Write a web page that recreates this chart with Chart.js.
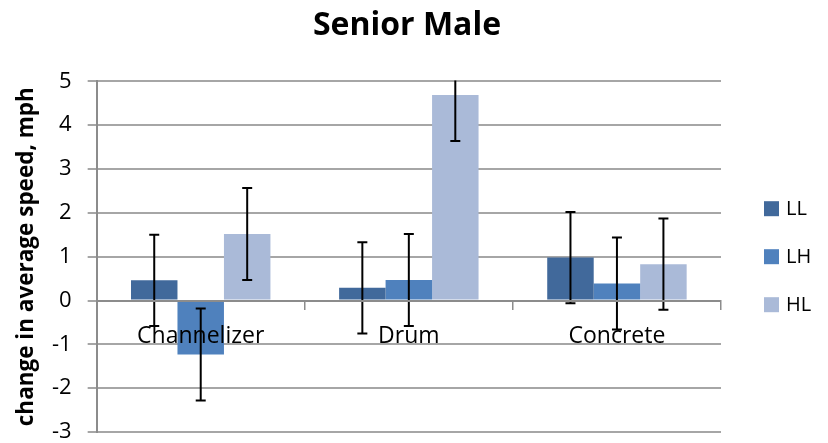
<!DOCTYPE html>
<html>
<head>
<meta charset="utf-8">
<script src="https://cdn.jsdelivr.net/npm/chart.js@4/dist/chart.umd.min.js"></script>
<style>
  html, body { margin: 0; padding: 0; background: #fff; }
  #wrap { width: 828px; height: 443px; }
</style>
</head>
<body>
<div id="wrap"><canvas id="speedChart"></canvas></div>
<script>
const categories = ['Channelizer', 'Drum', 'Concrete'];
const seriesNames = ['LL', 'LH', 'HL'];
const valuesLL = [0.46, 0.29, 0.98];
const valuesLH = [-1.23, 0.47, 0.39];
const valuesHL = [1.52, 4.69, 0.83];
const errLL = [1.04, 1.04, 1.04];
const errLH = [1.05, 1.05, 1.05];
const errHL = [1.05, 1.05, 1.04];
const yTicks = [-3, -2, -1, 0, 1, 2, 3, 4, 5];
const seriesColors = ['#41699b', '#4f81bd', '#aabad8'];

const FONT = '"Open Sans", "Liberation Sans", sans-serif';

// error bars, drawn through the y scale
const errorBars = {
    id: 'errorBars',
    afterDatasetsDraw(chart) {
        const ctx = chart.ctx;
        const y = chart.scales.y;
        const area = chart.chartArea;
        ctx.save();
        ctx.beginPath();
        ctx.rect(area.left, area.top - 1, area.right - area.left, area.bottom - area.top + 2);
        ctx.clip();
        ctx.strokeStyle = '#000';
        ctx.lineWidth = 2;
        chart.data.datasets.forEach((ds, i) => {
            const meta = chart.getDatasetMeta(i);
            meta.data.forEach((bar, j) => {
                const v = ds.data[j];
                const e = ds.errors[j];
                const top = y.getPixelForValue(v + e);
                const bot = y.getPixelForValue(v - e);
                ctx.beginPath();
                ctx.moveTo(bar.x, top);
                ctx.lineTo(bar.x, bot);
                ctx.moveTo(bar.x - 5, top);
                ctx.lineTo(bar.x + 5, top);
                ctx.moveTo(bar.x - 5, bot);
                ctx.lineTo(bar.x + 5, bot);
                ctx.stroke();
            });
        });
        ctx.restore();
    }
};

// legend on the right, Excel style
const sideLegend = {
    id: 'sideLegend',
    afterDraw(chart) {
        const ctx = chart.ctx;
        const area = chart.chartArea;
        const mid = (area.top + area.bottom) / 2;
        const step = 48;
        const n = chart.data.datasets.length;
        ctx.save();
        ctx.font = '20px ' + FONT;
        ctx.textBaseline = 'middle';
        ctx.textAlign = 'left';
        chart.data.datasets.forEach((ds, i) => {
            const cy = mid + (i - (n - 1) / 2) * step;
            ctx.fillStyle = ds.backgroundColor;
            ctx.fillRect(area.right + 43, cy - 7.5, 15, 15);
            ctx.fillStyle = '#000';
            ctx.fillText(ds.label, area.right + 65, cy + 1);
        });
        ctx.restore();
    }
};

new Chart(document.getElementById('speedChart'), {
    type: 'bar',
    data: {
        labels: categories,
        datasets: [
            { label: seriesNames[0], data: valuesLL, errors: errLL, backgroundColor: seriesColors[0] },
            { label: seriesNames[1], data: valuesLH, errors: errLH, backgroundColor: seriesColors[1] },
            { label: seriesNames[2], data: valuesHL, errors: errHL, backgroundColor: seriesColors[2] }
        ]
    },
    options: {
        responsive: true,
        maintainAspectRatio: false,
        animation: false,
        layout: { padding: { left: 4, right: 18, bottom: 0, top: 0 } },
        datasets: {
            bar: { categoryPercentage: 0.67, barPercentage: 1.0 }
        },
        plugins: {
            title: {
                display: true,
                text: 'Senior Male',
                color: '#000',
                font: { family: FONT, size: 32, weight: 'bold' },
                padding: { top: 7, bottom: 36 }
            },
            legend: { display: false },
            tooltip: { enabled: false }
        },
        scales: {
            x: {
                type: 'category',
                position: { y: 0 },
                offset: true,
                afterFit(axis) { axis.height = 0; },
                grid: {
                    display: true,
                    drawOnChartArea: false,
                    drawTicks: true,
                    tickLength: 8,
                    color: '#8c8c8c',
                    lineWidth: 1.5
                },
                border: { display: true, color: '#8c8c8c', width: 2, z: 1 },
                ticks: {
                    color: '#000',
                    font: { family: FONT, size: 23 },
                    padding: 14,
                    z: 1
                }
            },
            y: {
                min: -3,
                max: 5,
                // chart.js counts tick padding twice in the width and adds it below the last label
                afterFit(axis) { axis.width -= 16; axis.paddingBottom = 11; },
                afterBuildTicks(axis) {
                    axis.ticks = yTicks.map(v => ({ value: v }));
                },
                grid: {
                    color: '#a6a6a6',
                    lineWidth: 2,
                    drawTicks: true,
                    tickLength: 9
                },
                border: { display: true, color: '#8c8c8c', width: 2 },
                ticks: {
                    color: '#000',
                    font: { family: FONT, size: 22, lineHeight: 1 },
                    padding: 16
                },
                title: {
                    display: true,
                    text: 'change in average speed, mph',
                    color: '#000',
                    font: { family: FONT, size: 22.5, weight: 'bold' },
                    padding: { top: 9, bottom: 12 }
                }
            },
            // empty space on the right that holds the legend
            side: {
                position: 'right',
                afterFit(axis) { axis.width = 89; },
                grid: { display: false, drawTicks: false },
                border: { display: false },
                ticks: { display: false }
            }
        }
    },
    plugins: [errorBars, sideLegend]
});
</script>
</body>
</html>
